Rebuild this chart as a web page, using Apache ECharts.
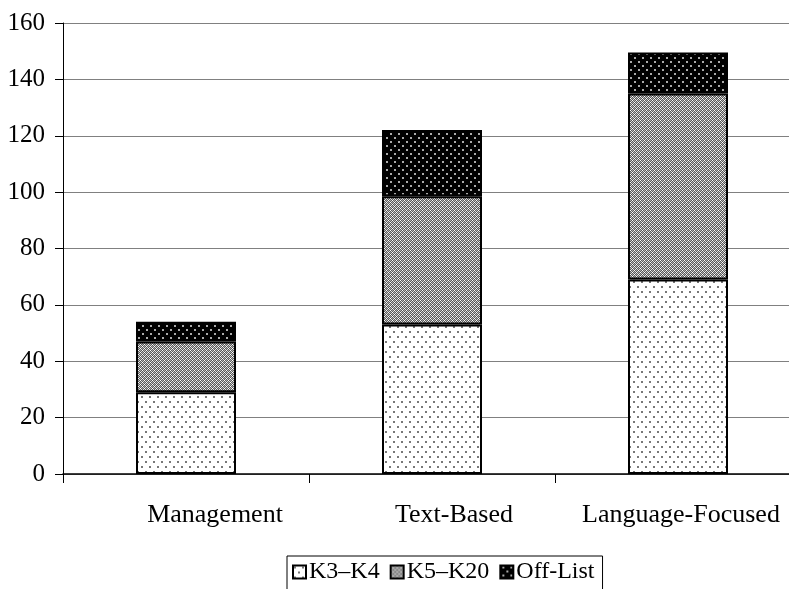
<!DOCTYPE html>
<html>
<head>
<meta charset="utf-8">
<script src="https://cdn.jsdelivr.net/npm/echarts@6/dist/echarts.min.js"></script>
<style>
html,body{margin:0;padding:0;background:#fff;overflow:hidden;}
#chart{width:801px;height:589px;}
</style>
</head>
<body>
<div id="chart"></div>
<script>
const categories = ['Management', 'Text-Based', 'Language-Focused'];
const seriesNames = ['K3–K4', 'K5–K20', 'Off-List'];
const k3k4 = [29, 53, 69];
const k5k20 = [18, 45.5, 66];
const offList = [7, 23.5, 14.5];
const yTicks = [0, 20, 40, 60, 80, 100, 120, 140, 160];

function makeTile(w, h, bg, pixels) {
  const c = document.createElement('canvas');
  c.width = w; c.height = h;
  const ctx = c.getContext('2d');
  ctx.fillStyle = bg;
  ctx.fillRect(0, 0, w, h);
  pixels.forEach(p => { ctx.fillStyle = p[2]; ctx.fillRect(p[0], p[1], p[3] || 1, p[4] || 1); });
  return c;
}
// sparse dotted (K3-K4)
const tileA = makeTile(8, 10, '#ffffff', [[1, 1, '#777', 2, 2], [5, 6, '#777', 2, 2]]);
// crosshatch grey (K5-K20)
const pixB = [];
for (let y = 0; y < 4; y++) for (let x = 0; x < 4; x++) {
  if ((x + y) % 2 === 1) pixB.push([x, y, '#5a5a5a']);
}
pixB.push([0, 0, '#ffffff'], [2, 2, '#ffffff'], [0, 2, '#a8a8a8'], [2, 0, '#a8a8a8']);
const tileB = makeTile(4, 4, '#dcdcdc', pixB);
// black with dots (Off-List)
const tileC = makeTile(8, 8, '#000000', [[2, 1, '#aaaaaa', 2, 2], [6, 5, '#aaaaaa', 2, 2]]);

const patterns = [tileA, tileB, tileC];
const dataSets = [k3k4, k5k20, offList];
const labelShift = { 'Management': 58, 'Text-Based': 44, 'Language-Focused': 6 };

const chart = echarts.init(document.getElementById('chart'), null, { renderer: 'canvas' });
const font = '"Liberation Serif", "Times New Roman", serif';

const option = {
  animation: false,
  backgroundColor: '#fff',
  textStyle: { fontFamily: font },
  grid: { left: 63, top: 23, right: 0, bottom: 115, containLabel: false },
  legend: {
    data: seriesNames,
    left: 287,
    top: 556,
    orient: 'horizontal',
    borderColor: '#000',
    borderWidth: 1,
    padding: [4, 8, 8, 5],
    itemWidth: 13,
    itemHeight: 13,
    itemGap: 10,
    icon: 'rect',
    textStyle: { fontFamily: font, fontSize: 24, color: '#000', padding: [0, 0, 0, -2] }
  },
  xAxis: {
    type: 'category',
    data: categories,
    axisLine: { show: true, lineStyle: { color: '#000', width: 1.5 } },
    axisTick: { show: true, length: 9, alignWithLabel: false, lineStyle: { color: '#000' } },
    axisLabel: {
      interval: 0,
      color: '#000',
      margin: 28,
      formatter: v => '{l' + categories.indexOf(v) + '|' + v + '}',
      rich: Object.fromEntries(categories.map((c, i) => ['l' + i, {
        fontFamily: font, fontSize: 26, color: '#000', padding: [0, 0, 0, labelShift[c]]
      }]))
    },
    splitLine: { show: false }
  },
  yAxis: {
    type: 'value',
    min: yTicks[0],
    max: yTicks[yTicks.length - 1],
    interval: yTicks[1] - yTicks[0],
    axisLine: { show: true, lineStyle: { color: '#000', width: 1 } },
    axisTick: { show: true, length: 8, inside: false, lineStyle: { color: '#000' } },
    axisLabel: { fontFamily: font, fontSize: 25, color: '#000', margin: 18 },
    splitLine: { show: true, lineStyle: { color: '#808080', width: 1 } }
  },
  series: seriesNames.map((name, i) => ({
    name: name,
    type: 'bar',
    stack: 'total',
    barWidth: 100,
    data: dataSets[i],
    itemStyle: {
      color: { image: patterns[i], repeat: 'repeat' },
      borderColor: '#000',
      borderWidth: 2
    }
  }))
};
chart.setOption(option);
</script>
</body>
</html>
